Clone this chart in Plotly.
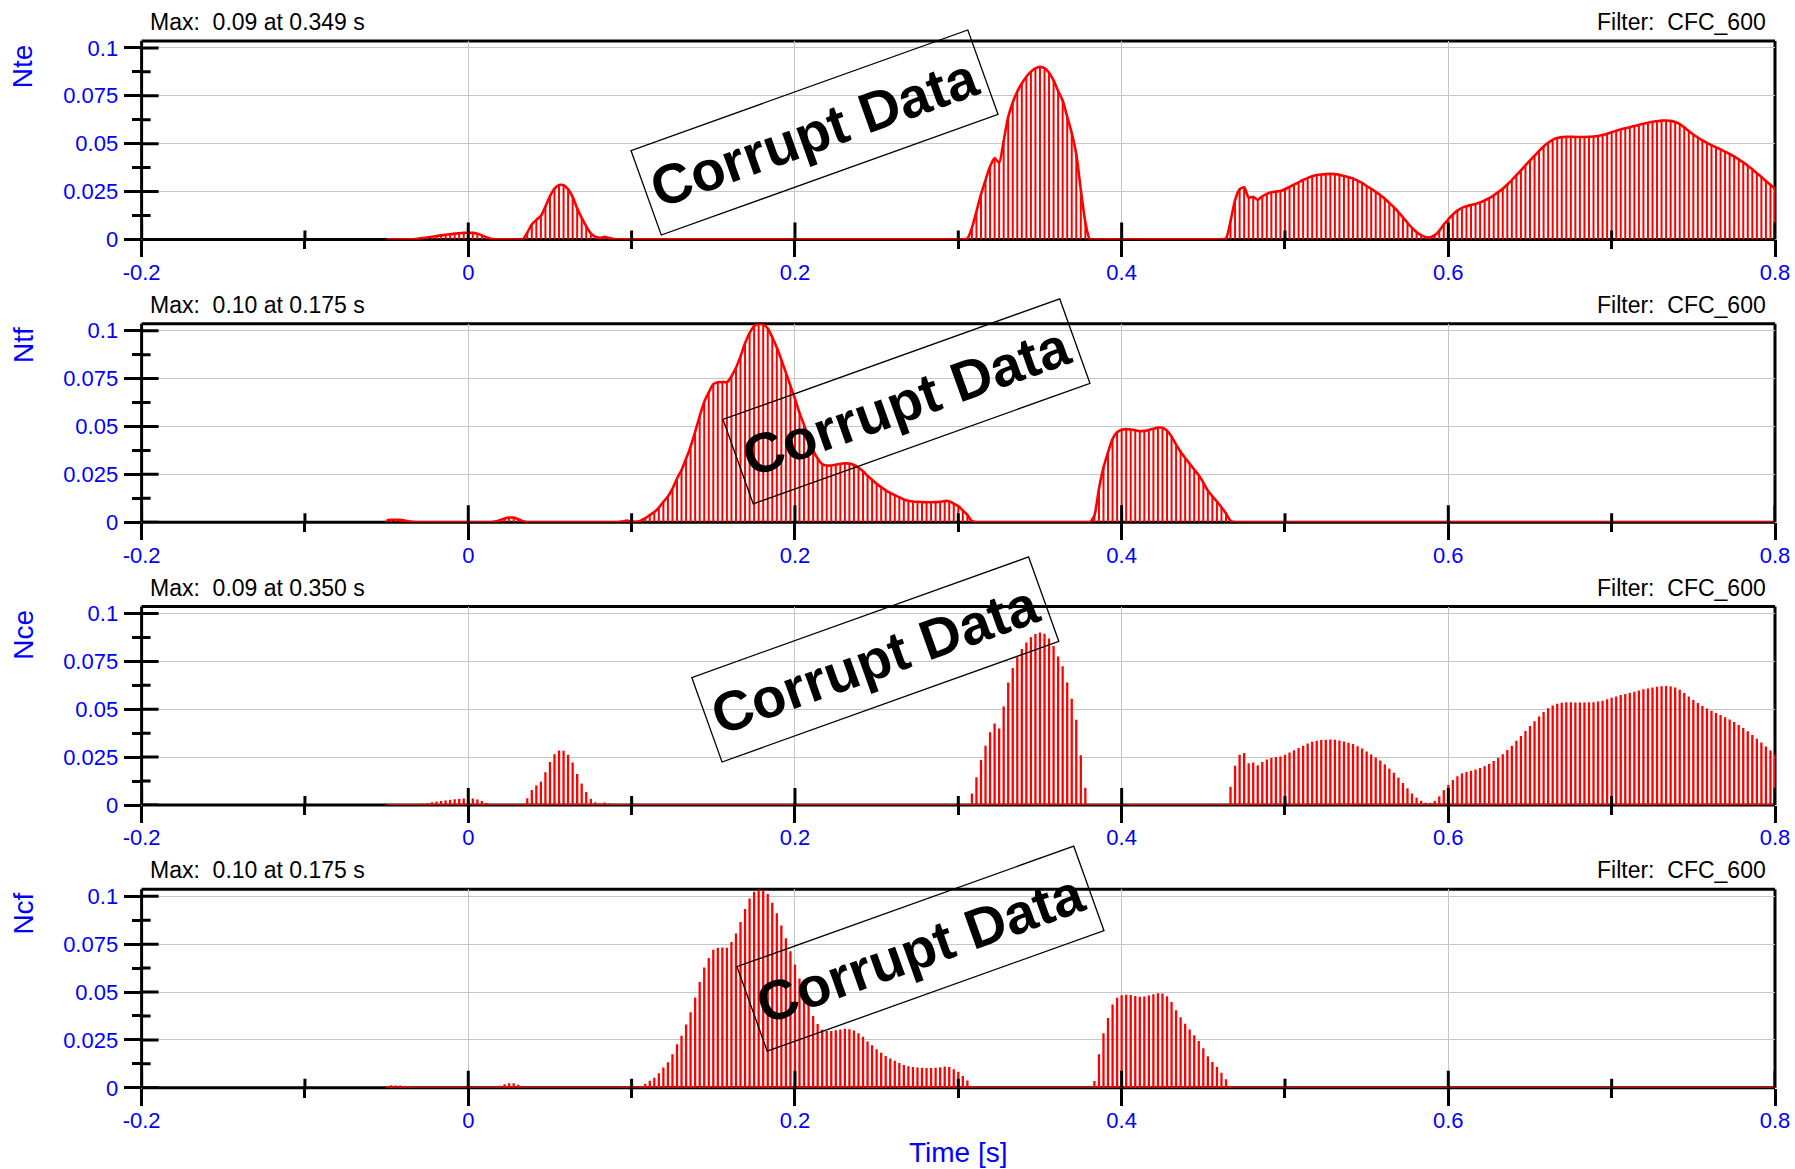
import plotly.graph_objects as go

# ---------------------------------------------------------------------------
# Channel data: one sample every 1/360 s starting at -0.05 s.
# Each row below holds 18 samples (0.05 s).
# ---------------------------------------------------------------------------
T0 = -0.05
DT = 1.0 / 360.0

nte = [
    0, 0, 0, 0, 0, 0, 0.0001, 0.0004, 0.0007, 0.0010, 0.0014, 0.0018, 0.0021, 0.0024, 0.0027, 0.0030, 0.0032, 0.0034,
    0.0035, 0.0034, 0.0029, 0.0021, 0.0011, 0.0003, 0, 0, 0, 0, 0, 0, 0, 0.0035, 0.0078, 0.0102, 0.0122, 0.0171,
    0.0225, 0.0265, 0.0284, 0.0283, 0.0262, 0.0222, 0.0162, 0.0112, 0.0068, 0.0032, 0.0014, 0.0008, 0.0013, 0.0008, 0.0002, 0, 0, 0,
    0, 0, 0, 0, 0, 0, 0, 0, 0, 0, 0, 0, 0, 0, 0, 0, 0, 0,
    0, 0, 0, 0, 0, 0, 0, 0, 0, 0, 0, 0, 0, 0, 0, 0, 0, 0,
    0, 0, 0, 0, 0, 0, 0, 0, 0, 0, 0, 0, 0, 0, 0, 0, 0, 0,
    0, 0, 0, 0, 0, 0, 0, 0, 0, 0, 0, 0, 0, 0, 0, 0, 0, 0,
    0, 0, 0.0005, 0.0060, 0.0145, 0.0235, 0.0310, 0.0380, 0.0425, 0.0400, 0.0515, 0.0640, 0.0715, 0.0772, 0.0814, 0.0849, 0.0876, 0.0893,
    0.0901, 0.0894, 0.0870, 0.0830, 0.0775, 0.0725, 0.0640, 0.0555, 0.0445, 0.0260, 0.0090, 0, 0, 0, 0, 0, 0, 0,
    0, 0, 0, 0, 0, 0, 0, 0, 0, 0, 0, 0, 0, 0, 0, 0, 0, 0,
    0, 0, 0, 0, 0, 0.0005, 0.0095, 0.0205, 0.0262, 0.0272, 0.0218, 0.0222, 0.0207, 0.0225, 0.0238, 0.0246, 0.0250, 0.0253,
    0.0262, 0.0274, 0.0286, 0.0298, 0.0310, 0.0321, 0.0330, 0.0336, 0.0339, 0.0341, 0.0342, 0.0341, 0.0337, 0.0331, 0.0325, 0.0318, 0.0307, 0.0295,
    0.0279, 0.0264, 0.0248, 0.0232, 0.0212, 0.0190, 0.0168, 0.0143, 0.0115, 0.0087, 0.0060, 0.0038, 0.0022, 0.0012, 0.0011, 0.0022, 0.0045, 0.0078,
    0.0105, 0.0130, 0.0150, 0.0165, 0.0173, 0.0179, 0.0185, 0.0193, 0.0203, 0.0215, 0.0230, 0.0247, 0.0265, 0.0287, 0.0310, 0.0335, 0.0360, 0.0386,
    0.0412, 0.0437, 0.0462, 0.0485, 0.0505, 0.0520, 0.0529, 0.0534, 0.0536, 0.0536, 0.0535, 0.0535, 0.0535, 0.0536, 0.0537, 0.0540, 0.0545, 0.0552,
    0.0560, 0.0567, 0.0574, 0.0580, 0.0586, 0.0592, 0.0598, 0.0604, 0.0609, 0.0614, 0.0617, 0.0620, 0.0621, 0.0619, 0.0613, 0.0602, 0.0585, 0.0566,
    0.0548, 0.0532, 0.0517, 0.0504, 0.0492, 0.0481, 0.0470, 0.0458, 0.0446, 0.0433, 0.0418, 0.0402, 0.0385, 0.0366, 0.0346, 0.0326, 0.0305, 0.0285,
    0.0265,
]

ntf = [
    0.0010, 0.0013, 0.0012, 0.0012, 0.0009, 0.0004, 0.0001, 0, 0, 0, 0, 0, 0, 0, 0, 0, 0, 0,
    0, 0, 0, 0, 0, 0, 0.0003, 0.0011, 0.0019, 0.0024, 0.0024, 0.0016, 0.0005, 0, 0, 0, 0, 0,
    0, 0, 0, 0, 0, 0, 0, 0, 0, 0, 0, 0, 0, 0, 0, 0, 0.0004, 0.0008, 0.0003,
    0.0002, 0.0008, 0.0021, 0.0037, 0.0053, 0.0076, 0.0106, 0.0134, 0.0175, 0.0228, 0.0272, 0.0331, 0.0395, 0.0472, 0.0553, 0.0628, 0.0678, 0.0721,
    0.0731, 0.0732, 0.0731, 0.0762, 0.0806, 0.0866, 0.0934, 0.0988, 0.1024, 0.1036, 0.1032, 0.1012, 0.0966, 0.0912, 0.0848, 0.0781, 0.0713, 0.0644,
    0.0571, 0.0508, 0.0443, 0.0375, 0.0333, 0.0303, 0.0296, 0.0296, 0.0300, 0.0305, 0.0308, 0.0306, 0.0299, 0.0285, 0.0266, 0.0242, 0.0222, 0.0201,
    0.0183, 0.0166, 0.0153, 0.0141, 0.0130, 0.0119, 0.0112, 0.0108, 0.0106, 0.0105, 0.0104, 0.0104, 0.0105, 0.0107, 0.0111, 0.0109, 0.0097, 0.0084,
    0.0062, 0.0038, 0.0006, 0, 0, 0, 0, 0, 0, 0, 0, 0, 0, 0, 0, 0, 0, 0,
    0, 0, 0, 0, 0, 0, 0, 0, 0, 0, 0, 0.0035, 0.0175, 0.0285, 0.0365, 0.0435, 0.0470, 0.0483,
    0.0486, 0.0484, 0.0480, 0.0476, 0.0477, 0.0482, 0.0488, 0.0494, 0.0493, 0.0478, 0.0448, 0.0405, 0.0368, 0.0335, 0.0305, 0.0275, 0.0245, 0.0207,
    0.0165, 0.0135, 0.0108, 0.0078, 0.0045, 0.0008, 0, 0, 0, 0, 0, 0, 0, 0, 0, 0, 0, 0,
    0, 0, 0, 0, 0, 0, 0, 0, 0, 0, 0, 0, 0, 0, 0, 0, 0, 0,
    0, 0, 0, 0, 0, 0, 0, 0, 0, 0, 0, 0, 0, 0, 0, 0, 0, 0,
    0, 0, 0, 0, 0, 0, 0, 0, 0, 0, 0, 0, 0, 0, 0, 0, 0, 0,
    0, 0, 0, 0, 0, 0, 0, 0, 0, 0, 0, 0, 0, 0, 0, 0, 0, 0,
    0, 0, 0, 0, 0, 0, 0, 0, 0, 0, 0, 0, 0, 0, 0, 0, 0, 0,
    0, 0, 0, 0, 0, 0, 0, 0, 0, 0, 0, 0, 0, 0, 0, 0, 0, 0,
    0,
]

# The "c" channels carry the same signals as the "t" channels
nce = list(nte)
ncf = list(ntf)

channels = ["Nte", "Ntf", "Nce", "Ncf"]
series = [nte, ntf, nce, ncf]
max_labels = [
    "Max:\u00a0 0.09 at 0.349 s",
    "Max:\u00a0 0.10 at 0.175 s",
    "Max:\u00a0 0.09 at 0.350 s",
    "Max:\u00a0 0.10 at 0.175 s",
]
filter_label = "Filter:\u00a0 CFC_600"
stamp_label = "<b>Corrupt Data</b>"
with_envelope = [True, True, False, False]

x_major = [-0.2, 0.0, 0.2, 0.4, 0.6, 0.8]
x_major_text = ["-0.2", "0", "0.2", "0.4", "0.6", "0.8"]
x_minor = [-0.1, 0.1, 0.3, 0.5, 0.7]
y_major = [0.0, 0.025, 0.05, 0.075, 0.1]
y_major_text = ["0", "0.025", "0.05", "0.075", "0.1"]
y_minor = [0.0125, 0.0375, 0.0625, 0.0875]
x_title = "Time [s]"

# ---------------------------------------------------------------------------
# Page geometry (pixels)
# ---------------------------------------------------------------------------
W, H = 1795, 1169
X_LEFT, X_RIGHT = 141.6, 1775.0
BASE0, STEP = 239.4, 282.8          # pixel row of y = 0 in the first panel, panel pitch
PANEL_H = 198.5                     # plot-area height
PX_PER_UNIT = 1915.0
Y_TOP = PANEL_H / PX_PER_UNIT
STAMP_CENTERS = [(814.5, 132.4), (906.1, 401.5), (875.3, 660.0), (920.9, 948.7)]

FONT = "Liberation Sans, Arial, Helvetica, sans-serif"
BLUE = "#0000ff"
RED = "#ff0000"
GRID = "#c6c6c6"

MAJOR_LEN, MINOR_LEN, TICK_W = 17, 9, 3


def px(xp):
    return xp / W


def py(yp):
    return 1.0 - yp / H


def stick_path(t, v):
    xs, ys = [], []
    for ti, vi in zip(t, v):
        xs += [ti, ti, None]
        ys += [0.0, vi, None]
    return xs, ys


fig = go.Figure()
shapes = []
annotations = []

for k, (name, vals) in enumerate(zip(channels, series)):
    n = k + 1
    xa = "x" if n == 1 else f"x{n}"
    ya = "y" if n == 1 else f"y{n}"
    t = [T0 + i * DT for i in range(len(vals))]

    # vertical sample sticks
    sx, sy = stick_path(t, vals)
    fig.add_trace(go.Scatter(
        x=sx, y=sy, mode="lines", xaxis=xa, yaxis=ya,
        line=dict(color=RED, width=2.0 if with_envelope[k] else 2.3),
        hoverinfo="skip", showlegend=False,
    ))
    if with_envelope[k]:
        fig.add_trace(go.Scatter(
            x=t, y=vals, mode="lines", xaxis=xa, yaxis=ya,
            line=dict(color=RED, width=2.6, shape="spline", smoothing=0.6),
            showlegend=False, name=name,
        ))
    else:
        fig.add_trace(go.Scatter(
            x=[t[0], t[-1]], y=[0.0, 0.0], mode="lines", xaxis=xa, yaxis=ya,
            line=dict(color=RED, width=2.2),
            hoverinfo="skip", showlegend=False,
        ))

    base = BASE0 + STEP * k
    top = base - PANEL_H
    dom_y = [py(base), py(top)]

    fig.layout[("xaxis" if n == 1 else f"xaxis{n}")] = dict(
        domain=[px(X_LEFT), px(X_RIGHT)], range=[-0.2, 0.8], anchor=ya,
        tickmode="array", tickvals=x_major, ticktext=x_major_text,
        ticks="outside", ticklen=MAJOR_LEN, tickwidth=TICK_W, tickcolor="black",
        minor=dict(tickmode="array", tickvals=x_minor, ticks="outside",
                   ticklen=MINOR_LEN, tickwidth=TICK_W, tickcolor="black", showgrid=False),
        showgrid=True, gridcolor=GRID, gridwidth=1.2,
        showline=False, zeroline=False,
        tickfont=dict(family=FONT, size=22, color=BLUE),
        ticklabelstandoff=-4, fixedrange=True,
    )
    fig.layout[("yaxis" if n == 1 else f"yaxis{n}")] = dict(
        domain=dom_y, range=[0, Y_TOP], anchor=xa,
        tickmode="array", tickvals=y_major, ticktext=y_major_text,
        ticks="outside", ticklen=MAJOR_LEN, tickwidth=TICK_W, tickcolor="black",
        minor=dict(tickmode="array", tickvals=y_minor, ticks="outside",
                   ticklen=MINOR_LEN, tickwidth=TICK_W, tickcolor="black", showgrid=False),
        showgrid=True, gridcolor=GRID, gridwidth=1.2,
        showline=False, zeroline=False,
        tickfont=dict(family=FONT, size=22, color=BLUE),
        ticklabelstandoff=1, fixedrange=True,
    )

    # frame
    xd, yd = f"{xa} domain", f"{ya} domain"
    for (x0, y0, x1, y1) in [(0, 0, 1, 0), (0, 1, 1, 1), (0, 0, 0, 1), (1, 0, 1, 1)]:
        shapes.append(dict(type="line", xref=xd, yref=yd, x0=x0, y0=y0, x1=x1, y1=y1,
                           line=dict(color="black", width=3), layer="below"))

    # inner halves of the crossing tick marks
    for tv, ln in [(v, MAJOR_LEN) for v in x_major] + [(v, MINOR_LEN) for v in x_minor]:
        shapes.append(dict(type="line", xref=xa, yref=ya, x0=tv, x1=tv,
                           ysizemode="pixel", yanchor=0, y0=0, y1=ln,
                           line=dict(color="black", width=TICK_W), layer="above"))
    for tv, ln in [(v, MAJOR_LEN) for v in y_major] + [(v, MINOR_LEN) for v in y_minor]:
        shapes.append(dict(type="line", xref=xa, yref=ya, y0=tv, y1=tv,
                           xsizemode="pixel", xanchor=-0.2, x0=0, x1=ln,
                           line=dict(color="black", width=TICK_W), layer="above"))

    # channel name
    annotations.append(dict(
        text=name, xref="paper", yref="paper", x=px(23.3), y=py(top + 1),
        xanchor="center", yanchor="top", textangle=-90, showarrow=False,
        font=dict(family=FONT, size=28, color=BLUE),
    ))
    # max / filter captions
    annotations.append(dict(
        text=max_labels[k], xref="paper", yref="paper", x=px(148.0), y=py(top - 19),
        xanchor="left", yanchor="middle", showarrow=False,
        font=dict(family=FONT, size=23, color="black"),
    ))
    annotations.append(dict(
        text=filter_label, xref="paper", yref="paper", x=px(1768.0), y=py(top - 19),
        xanchor="right", yanchor="middle", showarrow=False,
        font=dict(family=FONT, size=23, color="black"),
    ))
    # stamp
    cx, cy = STAMP_CENTERS[k]
    annotations.append(dict(
        text=stamp_label, xref="paper", yref="paper", x=px(cx), y=py(cy),
        xanchor="center", yanchor="middle", textangle=-19.7, showarrow=False,
        width=354, height=86, borderpad=1, bordercolor="black", borderwidth=1.3,
        align="center", valign="middle",
        font=dict(family=FONT, size=56, color="black"),
    ))

annotations.append(dict(
    text=x_title, xref="paper", yref="paper", x=px((X_LEFT + X_RIGHT) / 2), y=py(1152),
    xanchor="center", yanchor="middle", showarrow=False,
    font=dict(family=FONT, size=28, color=BLUE),
))

fig.update_layout(
    width=W, height=H, autosize=False,
    margin=dict(l=0, r=0, t=0, b=0, autoexpand=False),
    paper_bgcolor="white", plot_bgcolor="white",
    showlegend=False, shapes=shapes, annotations=annotations,
    font=dict(family=FONT),
)

fig.write_html("out.html")
